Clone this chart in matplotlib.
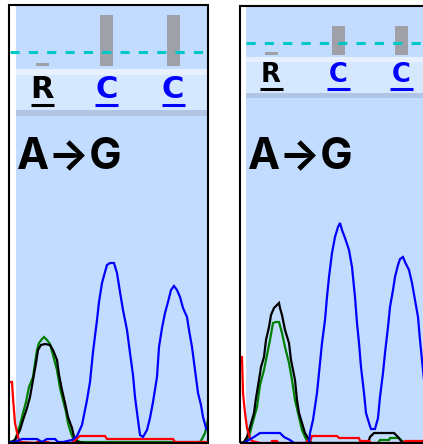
import matplotlib
matplotlib.use('Agg')
import matplotlib.pyplot as plt
from matplotlib.patches import Rectangle

W, H = 423, 444

# ---------------- data ----------------
mutation_label = 'A→G'
quality_threshold = 20

# panel A (left)
bases_a = ['R', 'C', 'C']
base_pos_a = [32, 96.5, 163]
quality_a = [4, 73, 73]

a_scan_blue = [0, 5, 12, 27, 32, 37, 45, 48, 53, 62, 67, 72, 77, 80, 83, 87, 89, 92, 95, 97, 100, 104,
               107, 110, 113, 117, 120, 123, 125, 128, 130, 133, 137, 140, 143, 147, 149, 152, 155, 158,
               161, 164, 167, 170, 173, 177, 179, 182, 185, 188, 191, 193, 196, 199]
a_sig_blue = [1, 1, 4, 4, 1, 4, 4, 1, 1, 3, 7, 18, 43, 61, 91, 123, 141, 160, 171, 178, 180, 180,
              170, 151, 133, 113, 90, 68, 46, 23, 8, 6, 13, 25, 41, 66, 96, 115, 130, 141,
              153, 157, 153, 146, 135, 126, 113, 96, 73, 50, 38, 26, 15, 11]
a_scan_black = [0, 5, 10, 13, 17, 20, 23, 26, 28, 31, 35, 40, 43, 47, 49, 52, 55, 58, 62, 64, 67, 75, 199]
a_sig_black = [0, 3, 13, 23, 35, 46, 63, 80, 93, 98, 99, 98, 93, 83, 68, 53, 40, 26, 15, 6, 1, 0, 0]
a_scan_green = [0, 5, 10, 13, 16, 19, 23, 25, 27, 29, 32, 34, 37, 40, 47, 50, 53, 56, 58, 61, 63, 70,
                190, 192, 195, 197, 199]
a_sig_green = [1, 3, 18, 30, 41, 56, 66, 80, 93, 100, 104, 106, 103, 99, 73, 55, 43, 31, 20, 10, 5, 1,
               1, 4, 10, 18, 30]
a_scan_red = [0, 2, 3, 5, 8, 10, 25, 27, 38, 40, 62, 65, 70, 95, 97, 163, 165, 199]
a_sig_red = [61, 61, 45, 20, 6, 1, 0, 1, 1, 0, 0, 3, 7, 7, 4, 4, 1, 1]

# panel B (right)
bases_b = ['R', 'C', 'C']
base_pos_b = [31, 98, 161.5]
quality_b = [5, 48, 48]

b_scan_blue = [4, 7, 14, 20, 40, 44, 50, 54, 69, 70, 73, 77, 79, 82, 85, 87, 89, 92, 95, 98, 100, 102,
               105, 109, 112, 115, 117, 119, 121, 124, 126, 129, 131, 135, 138, 140, 143, 145, 148, 150,
               153, 155, 158, 160, 163, 165, 169, 172, 175, 178, 180, 182, 184]
b_sig_blue = [0, 2, 6, 10, 10, 6, 3, 0, 0, 10, 23, 50, 70, 100, 123, 146, 166, 190, 206, 216, 220, 213,
              205, 193, 176, 146, 120, 100, 76, 50, 30, 20, 14, 14, 25, 46, 70, 90, 116, 136,
              153, 166, 178, 184, 186, 181, 173, 160, 143, 126, 103, 83, 63]
b_scan_black = [0, 4, 7, 10, 14, 16, 19, 21, 24, 26, 29, 31, 34, 37, 39, 40, 42, 45, 49, 51, 55, 57, 59,
                62, 65, 69, 72, 128, 130, 134, 154, 158, 162, 166, 183]
b_sig_black = [0, 1, 6, 16, 30, 45, 63, 76, 86, 103, 116, 128, 135, 138, 140, 135, 128, 113, 100, 83, 63,
               43, 30, 20, 10, 3, 0, 0, 6, 10, 10, 6, 1, 0, 0]
b_scan_green = [0, 6, 9, 12, 17, 20, 24, 27, 30, 33, 36, 39, 42, 45, 49, 52, 55, 59, 62, 65, 67, 72,
                138, 140, 149, 150, 159, 162, 166, 183]
b_sig_green = [0, 1, 6, 18, 36, 58, 73, 88, 103, 120, 121, 121, 110, 96, 80, 63, 43, 26, 13, 6, 2, 0,
               0, 3, 3, 5, 5, 2, 0, 0]
b_scan_red = [0, 2, 3, 5, 7, 10, 12, 20, 31, 32, 37, 38, 66, 67, 70, 72, 97, 99, 119, 120, 129, 131,
              164, 165, 183]
b_sig_red = [86, 86, 50, 30, 15, 5, 2, 0, 0, 2, 2, 0, 0, 2, 2, 7, 7, 5, 5, 2, 2, 0, 0, 2, 2]

# ---------------- style ----------------
BG = '#c2dcff'
LIGHT = '#e6f0ff'
CALLBG = '#d6e8ff'
DARK = '#b0c4e4'
QBAR = '#a0a0a8'
CYAN = '#00c8c8'
COL = {'A': '#008000', 'C': '#0000ff', 'G': '#000000', 'T': '#ff0000', 'R': '#000000'}

fig = plt.figure(figsize=(W / 100, H / 100), dpi=100)
fig.patch.set_facecolor('white')


def rect(x0, y0, x1, y1):
    return [x0 / W, 1 - y1 / H, (x1 - x0) / W, (y1 - y0) / H]


def bg(x0, y0, x1, y1, color, z=-5):
    l, b, w, h = rect(x0, y0, x1, y1)
    fig.add_artist(Rectangle((l, b), w, h, transform=fig.transFigure,
                             facecolor=color, edgecolor='none', zorder=z))


def panel(px0, px1, content_x, top, q_bot, light_bot, call_bot, dark_bot,
          bases, pos, qual, q_zero_px, q_scale, tr, letter_size, dash_from):
    bg(px0, top, px1, H, 'white')
    bg(content_x, top, px1, q_bot, BG)
    bg(content_x, q_bot, px1, light_bot, LIGHT)
    bg(content_x, light_bot, px1, call_bot, CALLBG)
    bg(content_x, call_bot, px1, dark_bot, DARK)
    bg(content_x, dark_bot, px1, H, BG)
    xmax = px1 - px0

    aq = fig.add_axes(rect(px0, top, px1, q_bot))
    aq.set_facecolor('none')
    aq.bar(pos, qual, width=13, color=QBAR, linewidth=0)
    aq.axhline(quality_threshold, xmin=dash_from / xmax, color=CYAN, lw=2.2,
               linestyle=(0, (3.0, 3.0)))
    aq.set_xlim(0, xmax)
    aq.set_ylim(-(q_bot - q_zero_px) / q_scale, (q_zero_px - top) / q_scale)
    aq.axis('off')

    ac = fig.add_axes(rect(px0, light_bot, px1, call_bot))
    ac.set_facecolor('none')
    for b, x in zip(bases, pos):
        ac.text(x, 0.58, b, color=COL[b], fontsize=letter_size, fontweight='bold',
                family='DejaVu Sans', ha='center', va='center')
        ac.plot([x - 11.5, x + 11.5], [0.13, 0.13], color=COL[b], lw=2.2,
                solid_capstyle='butt')
    ac.set_xlim(0, xmax)
    ac.set_ylim(0, 1)
    ac.axis('off')

    at = fig.add_axes(rect(px0, dark_bot, px1, H))
    at.set_facecolor('none')
    for (sx, sy, c) in tr:
        at.plot(sx, sy, color=c, lw=1.6, solid_joinstyle='miter')
    at.set_xlim(0, xmax)
    at.set_ylim(-1, H - 1 - dark_bot)
    at.axis('off')
    return at


panel(10, 209, 16, 5, 69, 75, 110, 116, bases_a, base_pos_a, quality_a, 66, 0.7,
      [(a_scan_green, a_sig_green, COL['A']), (a_scan_black, a_sig_black, COL['G']),
       (a_scan_red, a_sig_red, COL['T']), (a_scan_blue, a_sig_blue, COL['C'])], 22, 0)
panel(240, 423, 246, 7, 57, 62, 93, 98, bases_b, base_pos_b, quality_b, 55, 0.6,
      [(b_scan_green, b_sig_green, COL['A']), (b_scan_black, b_sig_black, COL['G']),
       (b_scan_red, b_sig_red, COL['T']), (b_scan_blue, b_sig_blue, COL['C'])], 18.5, 6)

for x0 in (17, 248):
    fig.text(x0 / W, 1 - 168 / H, mutation_label, fontsize=31, fontweight='bold',
             family=['Inter', 'DejaVu Sans'], color='black', ha='left', va='baseline')

for (x0, y0, x1, y1) in [(9, 5, 208, 443), (239.7, 6.5, 430, 443)]:
    l, b, w, h = rect(x0, y0, x1, y1)
    fig.add_artist(Rectangle((l, b), w, h, transform=fig.transFigure,
                             facecolor='none', edgecolor='black', lw=1.5, zorder=10))

fig.savefig('out.png', dpi=100)
